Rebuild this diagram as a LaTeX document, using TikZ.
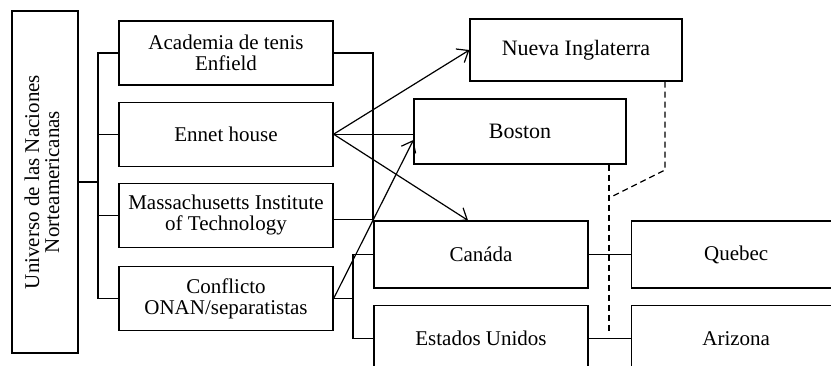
\documentclass[tikz,border=0pt]{standalone}
\usepackage{xcolor}
\usepackage{fontspec}
\setmainfont{Liberation Serif}
\usepackage{tikz}
\usetikzlibrary{shapes,arrows.meta,positioning,calc}

\tikzset{
    caja/.style={rectangle, draw, line width=0.6pt, inner sep=1pt, align=center,
        minimum width=107pt, minimum height=32pt, font=\fontsize{10.5}{10.5}\selectfont},
    linea/.style={line width=0.6pt},
    guion/.style={line width=0.6pt, dash pattern=on 3pt off 2pt}
}

\begin{document}
\begin{tikzpicture}[x=0.5pt, y=-0.5pt, >={Straight Barb[length=5pt,width=8pt]}]
        \useasboundingbox (0,0) rectangle (831,365);
        \clip (0,0) rectangle (831,365);
        % column on the left
        \node (univ) [caja, minimum width=33pt, minimum height=171pt] at (45,182) {};
        \node (univtxt) [rotate=90, align=center, font=\fontsize{10.5}{10}\selectfont] at ([xshift=-1.5pt]univ.center) {Universo de las Naciones\\Norteamericanas};
        \node (acad) [caja] at (226,53) {Academia de tenis\\Enfield};
        \node (ennet) [caja, below=8pt of acad] {Ennet house};
        \node (mit) [caja, below=8pt of ennet] {Massachusetts Institute\\of Technology};
        \node (conf) [caja, below=9pt of mit] {Conflicto\\ONAN/separatistas};
        % places
        \node (nueva) [caja, minimum width=106pt, minimum height=31pt, font=\fontsize{11}{11}\selectfont] at (576,50) {Nueva Inglaterra};
        \node (boston) [caja, minimum width=106pt, minimum height=32.5pt, font=\fontsize{11}{11}\selectfont] at (520,131.5) {Boston};
        \node (canada) [caja, minimum height=33.5pt] at (481,254.5) {Can\'ada};
        \node (eeuu) [caja, minimum height=33.5pt, below=8pt of canada] {Estados Unidos};
        \node (quebec) [caja, minimum width=105pt, minimum height=33.5pt, right=21pt of canada] {Quebec};
        \node (arizona) [caja, minimum width=105pt, minimum height=33.5pt, right=21pt of eeuu] {Arizona};
        % buses
        \coordinate (busl) at (98,0);
        \coordinate (busr) at (373,0);
        \coordinate (busc) at (353,0);
        \draw[linea] (univ.east) -- (univ.east -| busl);
        \draw[linea] (acad.west) -| (busl |- conf.west) -- (conf.west);
        \draw[linea] (ennet.west) -- (ennet.west -| busl);
        \draw[linea] (mit.west) -- (mit.west -| busl);
        \draw[linea] (acad.east) -| ([yshift=-2pt]busr |- mit.east) -- ([yshift=-2pt]mit.east);
        \draw[linea] (conf.east) -- (conf.east -| busc);
        \draw[linea] (canada.west) -| (busc |- eeuu.west) -- (eeuu.west);
        \draw[linea] (canada.east) -- (quebec.west);
        \draw[linea] (eeuu.east) -- (arizona.west);
        % arrows
        \draw[linea, ->] (ennet.east) -- (nueva.west);
        \draw[linea] (ennet.east) -- (ennet.east -| boston.west);
        \draw[linea, ->] (ennet.east) -- ([xshift=-6.5pt]canada.north);
        \draw[linea, ->] (conf.east) -- ([yshift=-4.25pt]boston.west);
        % dashed
        \coordinate (d1) at (609,331);
        \coordinate (d2) at (665,170);
        \coordinate (d3) at (609,198);
        \draw[guion] (boston.south -| d1) -- (d1);
        \draw[guion] (nueva.south -| d2) -- (d2) -- (d3);
    \end{tikzpicture}
\end{document}
